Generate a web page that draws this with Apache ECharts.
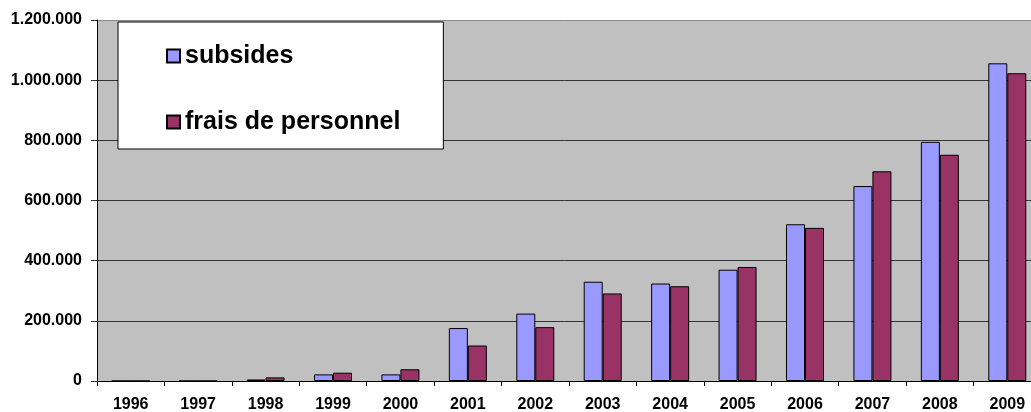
<!DOCTYPE html>
<html>
<head>
<meta charset="utf-8">
<script src="https://cdn.jsdelivr.net/npm/echarts@6/dist/echarts.min.js"></script>
<style>
html,body{margin:0;padding:0;background:#fff;}
#c{width:1031px;height:412px;}
</style>
</head>
<body>
<div id="c"></div>
<script>
const years = ['1996','1997','1998','1999','2000','2001','2002','2003','2004','2005','2006','2007','2008','2009'];
const subsides = [0, 0, 5000, 22000, 22000, 176000, 224000, 330000, 324000, 370000, 521000, 648000, 795000, 1056000];
const fraisPersonnel = [0, 0, 12000, 27500, 39000, 118000, 179000, 291000, 315000, 379000, 509000, 697000, 752000, 1023000];
const seriesNames = ['subsides', 'frais de personnel'];

function fmt(v) {
  return String(v).replace(/\B(?=(\d{3})+(?!\d))/g, '.');
}

const chart = echarts.init(document.getElementById('c'), null, {renderer: 'canvas'});
const font = 'Liberation Sans, Arial, sans-serif';
chart.setOption({
  animation: false,
  backgroundColor: '#ffffff',
  grid: {
    left: 97, top: 20, width: 944, height: 361,
    outerBoundsMode: 'none',
    containLabel: false,
    show: true, backgroundColor: '#c0c0c0', borderWidth: 0
  },
  legend: {
    orient: 'vertical',
    left: 118, top: 22,
    data: seriesNames,
    backgroundColor: '#ffffff',
    borderColor: '#000000',
    borderWidth: 1,
    padding: [21, 43, 14, 48],
    itemGap: 40,
    itemWidth: 13, itemHeight: 13,
    icon: 'rect',
    textStyle: {fontFamily: font, fontWeight: 'bold', fontSize: 25, color: '#000', lineHeight: 26}
  },
  xAxis: {
    type: 'category',
    data: years,
    axisLine: {show: true, lineStyle: {color: '#000', width: 1}},
    axisTick: {show: true, length: 5, lineStyle: {color: '#000'}},
    axisLabel: {fontFamily: font, fontWeight: 'bold', fontSize: 16, color: '#000', margin: 16},
    splitLine: {show: false}
  },
  yAxis: {
    type: 'value',
    min: 0, max: 1200000, interval: 200000,
    axisLine: {show: true, lineStyle: {color: '#000', width: 1}},
    axisTick: {show: true, length: 6, lineStyle: {color: '#333'}},
    axisLabel: {fontFamily: font, fontWeight: 'bold', fontSize: 16, color: '#000', margin: 15, formatter: fmt},
    splitLine: {show: true, lineStyle: {color: ['#333','#333','#333','#333','#333','#333','#888'], width: 1}}
  },
  series: [
    {
      name: seriesNames[0], type: 'bar', data: subsides,
      barWidth: 19, barGap: '0%',
      itemStyle: {color: '#9999ff', borderColor: '#000', borderWidth: 1}
    },
    {
      name: seriesNames[1], type: 'bar', data: fraisPersonnel,
      barWidth: 19, barGap: '0%',
      itemStyle: {color: '#993366', borderColor: '#000', borderWidth: 1}
    }
  ]
});
</script>
</body>
</html>
